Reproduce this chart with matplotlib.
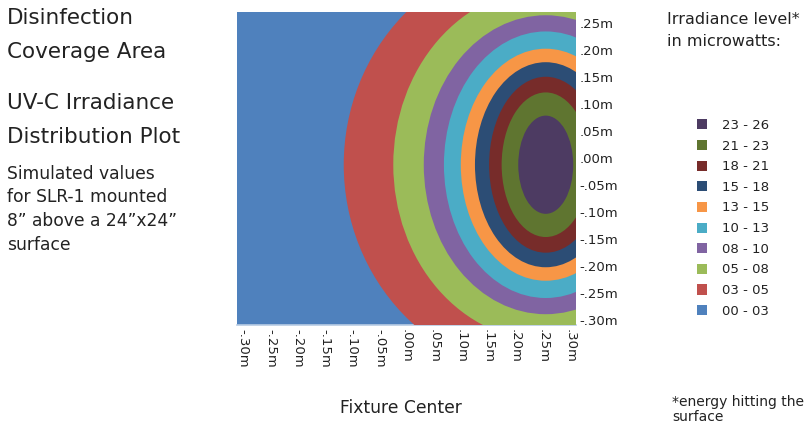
import matplotlib
matplotlib.use("Agg")
import matplotlib.pyplot as plt
from matplotlib.patches import Ellipse, Patch

plt.rcParams['font.family'] = ['DejaVu Sans']

# irradiance bands, outermost first
levels = ['00 - 03', '03 - 05', '05 - 08', '08 - 10', '10 - 13',
          '13 - 15', '15 - 18', '18 - 21', '21 - 23', '23 - 26']
colors = ['#4F81BD', '#C0504D', '#9BBB59', '#8064A2', '#4BACC6',
          '#F79646', '#2C4D75', '#772C2A', '#5F7530', '#4D3B62']
# semi-axes (m) of the outer boundary of each band
# (00-03 band fills the whole surface)
band_rx = [None, 0.371, 0.280, 0.224, 0.187, 0.156, 0.130, 0.104, 0.081, 0.0505]
band_ry = [None, 0.391, 0.326, 0.277, 0.247, 0.215, 0.190, 0.163, 0.134, 0.091]
peak_x = 0.2555
peak_y = -0.012

x_ticks = [-0.30, -0.25, -0.20, -0.15, -0.10, -0.05, 0.00, 0.05, 0.10, 0.15, 0.20, 0.25, 0.30]
y_ticks = [0.25, 0.20, 0.15, 0.10, 0.05, 0.00, -0.05, -0.10, -0.15, -0.20, -0.25, -0.30]


def lab(v):
    s = "%.2f" % v
    s = s.replace("0.", ".")
    if s == "-.00":
        s = ".00"
    return s + "m"


fig = plt.figure(figsize=(8.09, 4.23), dpi=100)
ax = fig.add_axes([0.2933, 0.2317, 0.4183, 0.7399])
ax.set_xlim(-0.311, 0.3105)
ax.set_ylim(-0.309, 0.271)
ax.set_facecolor(colors[0])

for i in range(1, len(levels)):
    e = Ellipse((peak_x, peak_y), 2 * band_rx[i], 2 * band_ry[i],
                facecolor=colors[i], edgecolor='none', zorder=2 + i)
    ax.add_patch(e)

tc = '#222222'
ax.set_xticks(x_ticks)
ax.set_xticklabels([lab(v) for v in x_ticks], rotation=270, fontsize=9.5, color=tc)
ax.yaxis.tick_right()
ax.set_yticks(y_ticks)
ax.set_yticklabels([lab(v) for v in y_ticks], fontsize=9.5, color=tc)
ax.tick_params(length=0, pad=3)
for side in ['top', 'left', 'right']:
    ax.spines[side].set_visible(False)
ax.spines['bottom'].set_color('#B8CCE4')
ax.spines['bottom'].set_linewidth(1.2)

# left-hand text block
fig.text(7 / 809, 1 - 18 / 423, "Disinfection", fontsize=15.5, color=tc, va='center')
fig.text(7 / 809, 1 - 52 / 423, "Coverage Area", fontsize=15.5, color=tc, va='center')
fig.text(7 / 809, 1 - 103 / 423, "UV-C Irradiance", fontsize=15.5, color=tc, va='center')
fig.text(7 / 809, 1 - 137 / 423, "Distribution Plot", fontsize=15.5, color=tc, va='center')
sub = ["Simulated values", "for SLR-1 mounted", "8\u201d above a 24\u201dx24\u201d", "surface"]
for k, s in enumerate(sub):
    fig.text(7 / 809, 1 - (174 + 23.5 * k) / 423, s, fontsize=12.3, color=tc, va='center')

fig.text(401 / 809, 1 - 408 / 423, "Fixture Center", fontsize=12.3, color=tc,
         ha='center', va='center')

fig.text(667 / 809, 1 - 20 / 423, "Irradiance level*", fontsize=11.5, color=tc, va='center')
fig.text(667 / 809, 1 - 42 / 423, "in microwatts:", fontsize=11.5, color=tc, va='center')

handles = [Patch(facecolor=colors[i], edgecolor='none', label=levels[i])
           for i in range(len(levels) - 1, -1, -1)]
fig.legend(handles=handles, loc='upper left', bbox_to_anchor=(685 / 809, 1 - 107 / 423),
           frameon=False, fontsize=9.5, handlelength=0.8, handleheight=0.8,
           handletextpad=1.1, labelspacing=0.58, labelcolor=tc)

fig.text(672 / 809, 1 - 402 / 423, "*energy hitting the", fontsize=10, color=tc, va='center')
fig.text(672 / 809, 1 - 417 / 423, "surface", fontsize=10, color=tc, va='center')

fig.savefig("out.png", dpi=100)
